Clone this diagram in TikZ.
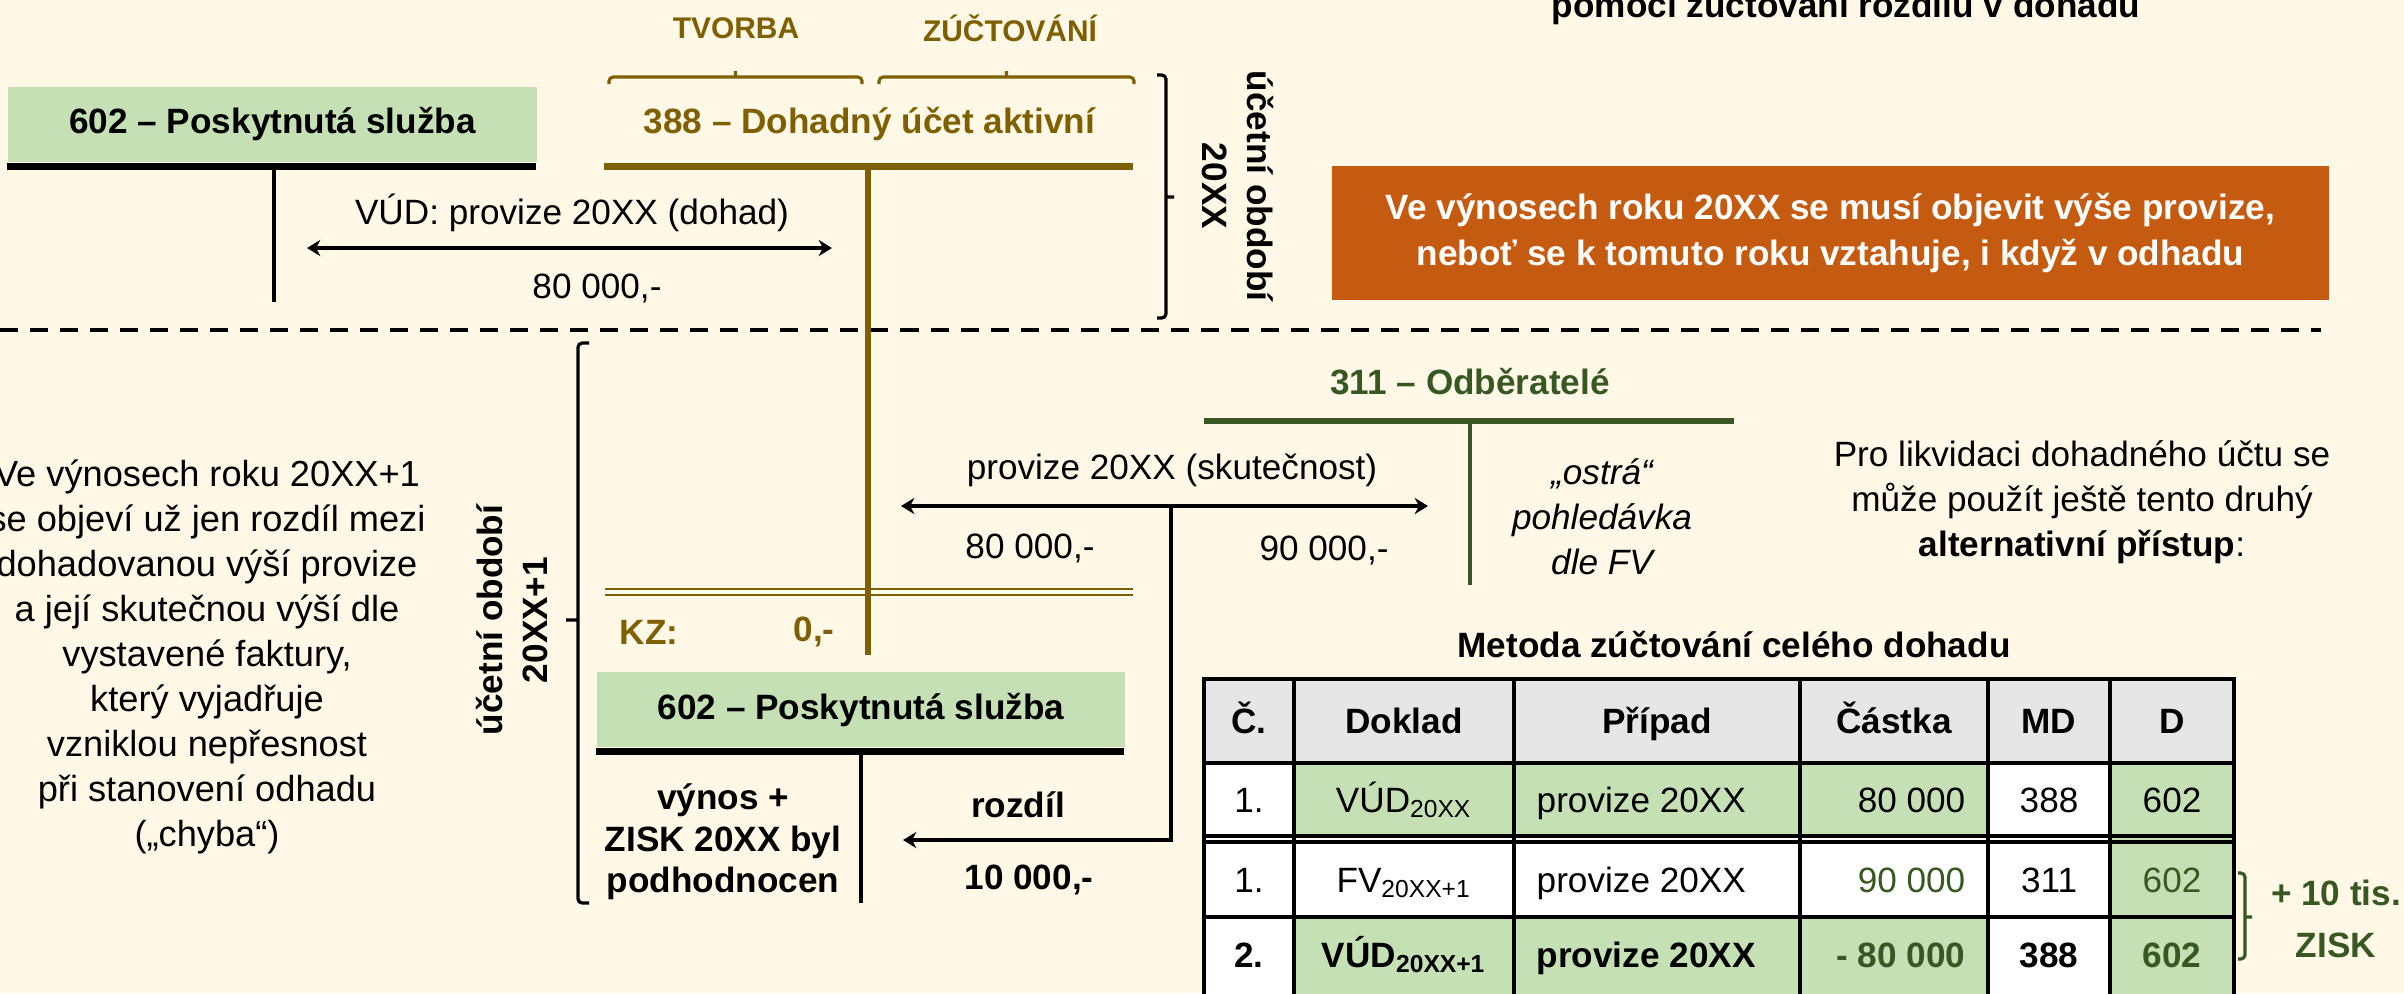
\documentclass[tikz,border=0pt]{standalone}
\usepackage{fontspec}
\setmainfont{Liberation Sans}
\usepackage{xcolor}
\usetikzlibrary{arrows.meta}

\definecolor{pozadi}{HTML}{FFF8E7}
\definecolor{dohad}{HTML}{7F6000}
\definecolor{tmavezelena}{HTML}{385723}
\definecolor{svetlezelena}{HTML}{C5E0B4}
\definecolor{oranzova}{HTML}{C55A11}
\definecolor{seda}{HTML}{E7E6E6}

\begin{document}
\begin{tikzpicture}[x=0.01cm, y=-0.01cm, >={Stealth[length=3.8pt, width=4.6pt]},
    txt/.style={inner sep=0pt, align=center, font=\fontsize{10}{12.8}\selectfont},
    tucne/.style={txt, font=\fontsize{10}{12.8}\selectfont\bfseries},
    ucet/.style={tucne, minimum width=5.29cm, minimum height=0.75cm},
    tbar/.style={line width=1.9pt},
    tnoha/.style={line width=1.3pt},
    sipka/.style={line width=1.15pt},
    zavorka/.style={line width=0.9pt, rounded corners=1.2pt},
    mrizka/.style={line width=1.15pt, line cap=rect}]

    \fill[pozadi] (0,0) rectangle (2404,993);
    \useasboundingbox (0,0) rectangle (2404,993);

    \node[tucne, anchor=base] (nadpis) at (1846,17) {pomocí zúčtování rozdílu v dohadu};

    \node[ucet, fill=svetlezelena] (ucet602) at (272.5,124.5) {602 – Poskytnutá služba};
    \draw[tbar] (ucet602.south west) ++(0,3.5) -- ++(529,0);
    \draw[tnoha] (ucet602.south) ++(1.5,7) -- ++(0,132);

    \node[ucet, text=dohad] (ucet388) at (869.5,124.5) {388 – Dohadný účet aktivní};
    \draw[tbar, dohad] (ucet388.south west) ++(0,3.5) -- ++(529,0);

    \node[tucne, text=dohad, font=\fontsize{8.5}{10}\selectfont\bfseries] (tvorba) at (736,28) {TVORBA};
    \node[tucne, text=dohad, font=\fontsize{8.5}{10}\selectfont\bfseries] (zuctovani) at (1010,28) {ZÚČTOVÁNÍ};
    \foreach \a/\b in {609/862, 879/1134}
        \draw[zavorka, dohad] (\a,84) -- (\a,77) -- (\b,77) -- (\b,84) ({(\a+\b)/2},77) -- ({(\a+\b)/2},71);

    \coordinate (vud-l) at (307,248);
    \coordinate (vud-p) at (832,248);
    \draw[sipka, <->] (vud-l) -- (vud-p);
    \node[txt] (vud-popis) at (572,213) {VÚD: provize 20XX (dohad)};
    \node[txt] (vud-castka) at (597,288) {80 000,-};

    \draw[zavorka] (1157,75) -- (1166,75) -- (1166,318) -- (1157,318) (1166,197) -- (1174,197);
    \node[tucne, rotate=-90] (obdobi1) at (1238,186) {účetní období\\20XX};

    \node[tucne, fill=oranzova, text=white, minimum width=9.97cm, minimum height=1.34cm,
        font=\fontsize{10}{13}\selectfont\bfseries] (poznamka) at (1830.5,233)
        {Ve výnosech roku 20XX se musí objevit výše provize,\\neboť se k tomuto roku vztahuje, i když v odhadu};

    \draw[line width=1.3pt, dash pattern=on 0.18cm off 0.12cm] (0,330) -- (2321,330);

    \draw[zavorka] (589,343) -- (578,343) -- (578,903) -- (589,903) (578,620) -- (566,620);
    \node[tucne, rotate=90] (obdobi2) at (512,620) {účetní období\\20XX+1};
    \node[txt, font=\fontsize{10.3}{12.8}\selectfont] (vysvetleni) at (207,657) {Ve výnosech roku 20XX+1\\se objeví už jen rozdíl mezi\\dohadovanou výší provize\\a její skutečnou výší dle\\vystavené faktury,\\který vyjadřuje\\vzniklou nepřesnost\\při stanovení odhadu\\(„chyba“)};

    \draw[dohad, line width=0.6pt] (605,589) -- (1133,589) (605,595) -- (1133,595);
    \draw[dohad, line width=1.7pt] (868,168) -- (868,655);
    \node[tucne, text=dohad] (kz) at (649,632) {KZ:};
    \node[tucne, text=dohad] (kz-castka) at (814,632) {0,-};

    \node[tucne, text=tmavezelena] (ucet311) at (1470,382) {311 – Odběratelé};
    \draw[tbar, tmavezelena] (1204,421) -- (1734,421);
    \draw[tnoha, tmavezelena] (1470,424) -- (1470,585);
    \node[txt, font=\fontsize{10}{12.8}\selectfont\itshape] (ostra) at (1602,517) {„ostrá“\\pohledávka\\dle FV};

    \coordinate (skut-l) at (901,506);
    \coordinate (skut-p) at (1428,506);
    \draw[sipka, <->] (skut-l) -- (skut-p);
    \node[txt] (skut-popis) at (1172,470) {provize 20XX (skutečnost)};
    \node[txt] (skut-80) at (1030,548) {80 000,-};
    \node[txt] (skut-90) at (1324,550) {90 000,-};
    \coordinate (rozdil-odbocka) at (1171,506);
    \coordinate (rozdil-cil) at (903,840);
    \draw[sipka, line width=1.3pt, ->] (rozdil-odbocka) |- (rozdil-cil);

    \node[ucet, fill=svetlezelena, minimum width=5.28cm] (ucet602b) at (861,709.5) {602 – Poskytnutá služba};
    \draw[tbar] (ucet602b.south west) ++(0,3.5) -- ++(528,0);
    \draw[tnoha] (861,754) -- (861,903);
    \node[tucne, font=\fontsize{10}{11.8}\selectfont\bfseries] (vynos) at (723,842) {výnos +\\ZISK 20XX byl\\podhodnocen};
    \node[tucne] (rozdil) at (1018,805) {rozdíl};
    \node[tucne] (rozdil-castka) at (1029,880) {10 000,-};

    \node[txt] (alternativa) at (2082,502) {Pro likvidaci dohadného účtu se\\může použít ještě tento druhý\\\textbf{alternativní přístup}:};
    \node[tucne] (metoda) at (1734,645) {Metoda zúčtování celého dohadu};

    \fill[seda] (1204,679) rectangle (2234,763);
    \fill[white] (1204,763) rectangle (2234,995);
    \fill[svetlezelena] (1294,763) rectangle (1988,836);
    \fill[svetlezelena] (2110,763) rectangle (2234,995);
    \fill[svetlezelena] (1294,917) rectangle (1988,995);
    \foreach \x in {1204,1294,1514,1800,1988,2110,2234}
        \draw[mrizka] (\x,679) -- (\x,995);
    \foreach \y in {679,763,836,842,917}
        \draw[mrizka] (1204,\y) -- (2234,\y);

    \foreach \x/\t [count=\i] in {1249/Č., 1404/Doklad, 1657/Případ, 1894/Částka, 2049/MD, 2172/D}
        \node[tucne, anchor=base] (hlava-\i) at (\x,733) {\t};

    \node[txt, anchor=base] (r1-c) at (1249,812) {1.};
    \node[txt, anchor=base] (r1-doklad) at (1404,812) {VÚD\textsubscript{20XX}};
    \node[txt, anchor=base west] (r1-pripad) at (1536,812) {provize 20XX};
    \node[txt, anchor=base east] (r1-castka) at (1966,812) {80 000};
    \node[txt, anchor=base] (r1-md) at (2049,812) {388};
    \node[txt, anchor=base] (r1-d) at (2172,812) {602};

    \node[txt, anchor=base] (r2-c) at (1249,892) {1.};
    \node[txt, anchor=base] (r2-doklad) at (1404,892) {FV\textsubscript{20XX+1}};
    \node[txt, anchor=base west] (r2-pripad) at (1536,892) {provize 20XX};
    \node[txt, anchor=base east, text=tmavezelena] (r2-castka) at (1966,892) {90 000};
    \node[txt, anchor=base] (r2-md) at (2049,892) {311};
    \node[txt, anchor=base, text=tmavezelena] (r2-d) at (2172,892) {602};

    \node[tucne, anchor=base] (r3-c) at (1249,967) {2.};
    \node[tucne, anchor=base] (r3-doklad) at (1404,967) {VÚD\textsubscript{20XX+1}};
    \node[tucne, anchor=base west] (r3-pripad) at (1536,967) {provize 20XX};
    \node[tucne, anchor=base east, text=tmavezelena] (r3-castka) at (1966,967) {- 80 000};
    \node[tucne, anchor=base] (r3-md) at (2049,967) {388};
    \node[tucne, anchor=base, text=tmavezelena] (r3-d) at (2172,967) {602};

    \draw[zavorka, tmavezelena] (2238,873) -- (2245,873) -- (2245,959) -- (2238,959) (2245,917) -- (2252,917);
    \node[tucne, text=tmavezelena, font=\fontsize{10}{14.8}\selectfont\bfseries] (zisk) at (2336,919) {+ 10 tis.\\ZISK};
\end{tikzpicture}
\end{document}
